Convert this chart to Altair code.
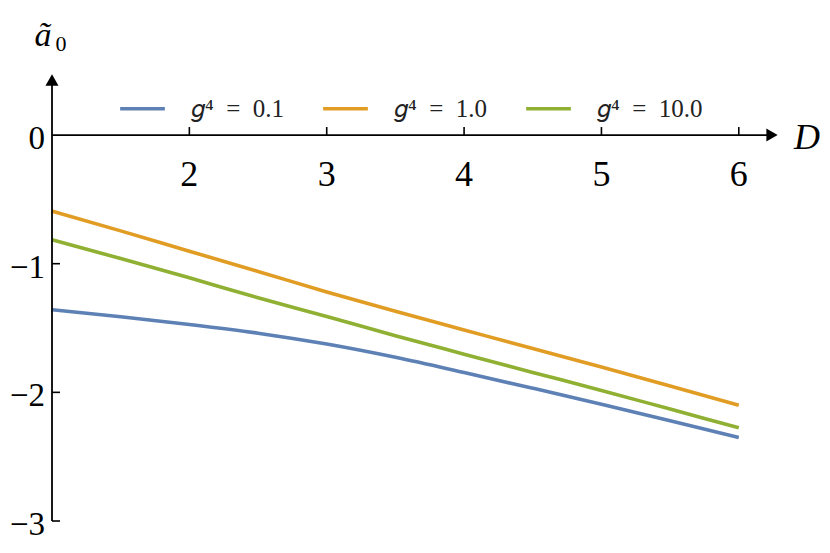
import altair as alt
import pandas as pd

# ---- data ----
D = [1.0, 1.5, 2.0, 2.5, 3.0, 3.5, 4.0, 4.5, 5.0, 5.5, 6.0]
a_g01 = [-1.358, -1.412, -1.472, -1.540, -1.625, -1.728, -1.846, -1.968, -2.092, -2.220, -2.351]
a_g1 = [-0.592, -0.745, -0.903, -1.060, -1.220, -1.370, -1.515, -1.660, -1.803, -1.950, -2.100]
a_g10 = [-0.814, -0.960, -1.110, -1.265, -1.410, -1.560, -1.703, -1.845, -1.985, -2.130, -2.275]
series = ["𝑔⁴\u2002=\u20020.1", "𝑔⁴\u2002=\u20021.0", "𝑔⁴\u2002=\u200210.0"]
colors = ["#5E81B5", "#E19C24", "#8FB032"]
x_ticks = [2, 3, 4, 5, 6]
y_ticks = [0, -1, -2, -3]
x_domain = [1.0, 6.3]
y_domain = [-3.0, 0.49]

rows = []
for name, vals in zip(series, [a_g01, a_g1, a_g10]):
    for d, v in zip(D, vals):
        rows.append({"D": d, "a": v, "s": name})
df = pd.DataFrame(rows)

W, H = 728, 449
xs = alt.Scale(domain=x_domain, nice=False, zero=False)
ys = alt.Scale(domain=y_domain, nice=False, zero=False)
px_x = (x_domain[1] - x_domain[0]) / W
px_y = (y_domain[1] - y_domain[0]) / H
serif = "Liberation Serif"

lines = alt.Chart(df).mark_line(strokeWidth=3.6, interpolate="monotone").encode(
    x=alt.X("D:Q", scale=xs, axis=None),
    y=alt.Y("a:Q", scale=ys, axis=None),
    color=alt.Color(
        "s:N",
        scale=alt.Scale(domain=series, range=colors),
        sort=series,
        legend=alt.Legend(
            title=None, orient="none", legendX=66, legendY=12, direction="horizontal",
            symbolType="stroke", symbolSize=2000, symbolStrokeWidth=3.6,
            labelFont=serif, labelFontSize=25, labelColor="#222222",
            labelOffset=24, columnPadding=30, labelLimit=300,
        ),
    ),
)

# axes lines
x0, x1 = x_domain
axis_df = pd.DataFrame({"x": [x0], "x2": [x1 - 10 * px_x], "y": [0.0]})
xaxis = alt.Chart(axis_df).mark_rule(color="black", strokeWidth=1.8).encode(
    x=alt.X("x:Q", scale=xs), x2="x2:Q", y=alt.Y("y:Q", scale=ys))
yaxis_df = pd.DataFrame({"x": [x0], "y": [y_domain[0]], "y2": [y_domain[1] - 10 * px_y]})
yaxis = alt.Chart(yaxis_df).mark_rule(color="black", strokeWidth=1.8).encode(
    x=alt.X("x:Q", scale=xs), y=alt.Y("y:Q", scale=ys), y2="y2:Q")

arrx = alt.Chart(pd.DataFrame({"x": [x1 - 8 * px_x], "y": [0.0]})).mark_point(
    shape="triangle-right", filled=True, color="black", size=170, opacity=1).encode(
    x=alt.X("x:Q", scale=xs), y=alt.Y("y:Q", scale=ys))
arry = alt.Chart(pd.DataFrame({"x": [x0], "y": [y_domain[1] - 8 * px_y]})).mark_point(
    shape="triangle-up", filled=True, color="black", size=170, opacity=1).encode(
    x=alt.X("x:Q", scale=xs), y=alt.Y("y:Q", scale=ys))

# ticks
xt = pd.DataFrame({"x": x_ticks, "y": [0.0] * len(x_ticks), "y2": [8 * px_y] * len(x_ticks)})
xtick = alt.Chart(xt).mark_rule(color="black", strokeWidth=1.6).encode(
    x=alt.X("x:Q", scale=xs), y=alt.Y("y:Q", scale=ys), y2="y2:Q")
xlab = alt.Chart(xt).mark_text(font=serif, fontSize=36, baseline="middle", dy=40, color="black").encode(
    x=alt.X("x:Q", scale=xs), y=alt.Y("y:Q", scale=ys), text=alt.Text("x:Q", format="d"))

yt_df = pd.DataFrame({"y": y_ticks, "x": [x0] * len(y_ticks), "x2": [x0 + 8 * px_x] * len(y_ticks),
                      "lab": [("−" + str(abs(v))) if v < 0 else str(v) for v in y_ticks]})
ytick = alt.Chart(yt_df[yt_df.y != 0]).mark_rule(color="black", strokeWidth=1.6).encode(
    x=alt.X("x:Q", scale=xs), x2="x2:Q", y=alt.Y("y:Q", scale=ys))
ylab = alt.Chart(yt_df).mark_text(font=serif, fontSize=33, align="right", baseline="middle",
                                  dx=-7, dy=4, color="black").encode(
    x=alt.X("x:Q", scale=xs), y=alt.Y("y:Q", scale=ys), text="lab:N")

# axis titles
dlab = alt.Chart(pd.DataFrame({"t": ["D"]})).mark_text(
    font=serif, fontSize=36, fontStyle="italic", baseline="middle", align="center", color="black").encode(
    x=alt.value(755), y=alt.value(66), text="t:N")
alab = alt.Chart(pd.DataFrame({"t": ["ã"]})).mark_text(
    font=serif, fontSize=34, fontStyle="italic", baseline="alphabetic", align="center", color="black").encode(
    x=alt.value(-9), y=alt.value(-26), text="t:N")
a0lab = alt.Chart(pd.DataFrame({"t": ["0"]})).mark_text(
    font=serif, fontSize=22, baseline="alphabetic", align="center", color="black").encode(
    x=alt.value(9), y=alt.value(-21), text="t:N")

chart = alt.layer(
    lines, xaxis, yaxis, arrx, arry, xtick, xlab, ytick, ylab, dlab, alab, a0lab
).properties(
    width=W, height=H,
    padding={"left": 44, "top": 64, "right": 42, "bottom": 24},
    autosize=alt.AutoSizeParams(type="none"),
).configure_view(stroke=None)

chart.save("out.html", embed_options={"renderer": "svg", "actions": False})
